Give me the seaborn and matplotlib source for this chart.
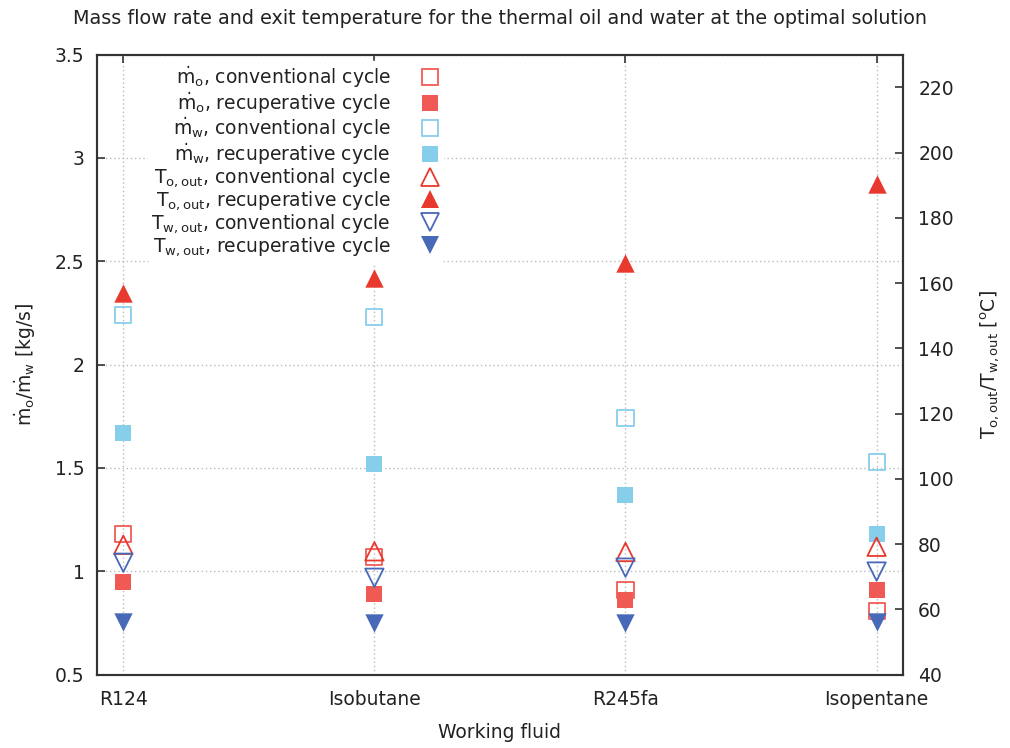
import matplotlib
matplotlib.use("Agg")
import matplotlib.pyplot as plt
import seaborn as sns
import pandas as pd

fluids = ["R124", "Isobutane", "R245fa", "Isopentane"]

# Mass flow rates [kg/s]
m_oil_conv = [1.18, 1.07, 0.91, 0.81]
m_oil_recup = [0.95, 0.89, 0.86, 0.91]
m_water_conv = [2.24, 2.23, 1.74, 1.53]
m_water_recup = [1.67, 1.52, 1.37, 1.18]

# Exit temperatures [degC]
T_oil_conv = [79.8, 77.8, 77.6, 79.2]
T_oil_recup = [157.0, 161.7, 166.0, 190.2]
T_water_conv = [74.3, 69.7, 72.8, 71.6]
T_water_recup = [56.2, 55.9, 55.9, 56.2]

RED_SQ = "#f05a55"
RED_TRI = "#e8392e"
SKY = "#87ceeb"
NAVY = "#4868b8"
TXT = "#222222"
FS = 13.5

sns.set_theme(style="white")
plt.rcParams["font.family"] = ["DejaVu Sans"]
plt.rcParams["mathtext.fontset"] = "dejavusans"

fig = plt.figure(figsize=(10.10, 7.48), dpi=100)
ax = fig.add_axes([0.096, 0.098, 0.798, 0.829])
ax2 = ax.twinx()

pos = list(range(len(fluids)))

series = [
    (ax, m_oil_conv, "s", RED_SQ, False, r"$\dot{\mathrm{m}}_\mathrm{o}$, conventional cycle", 135),
    (ax, m_oil_recup, "s", RED_SQ, True, r"$\dot{\mathrm{m}}_\mathrm{o}$, recuperative cycle", 135),
    (ax, m_water_conv, "s", SKY, False, r"$\dot{\mathrm{m}}_\mathrm{w}$, conventional cycle", 135),
    (ax, m_water_recup, "s", SKY, True, r"$\dot{\mathrm{m}}_\mathrm{w}$, recuperative cycle", 135),
    (ax2, T_oil_conv, "^", RED_TRI, False, r"$\mathrm{T}_\mathrm{o,out}$, conventional cycle", 175),
    (ax2, T_oil_recup, "^", RED_TRI, True, r"$\mathrm{T}_\mathrm{o,out}$, recuperative cycle", 175),
    (ax2, T_water_conv, "v", NAVY, False, r"$\mathrm{T}_\mathrm{w,out}$, conventional cycle", 175),
    (ax2, T_water_recup, "v", NAVY, True, r"$\mathrm{T}_\mathrm{w,out}$, recuperative cycle", 175),
]

handles = []
labels = []
for target, vals, mk, col, filled, lab, size in series:
    df = pd.DataFrame({"x": pos, "y": vals})
    sns.scatterplot(
        data=df, x="x", y="y", ax=target, marker=mk, s=size,
        color=col if filled else "none",
        edgecolor=col, linewidth=0 if filled else 1.3,
        zorder=3, legend=False,
    )
    h = plt.Line2D([], [], linestyle="none", marker=mk, markersize=11 if mk == "s" else 13,
                   markerfacecolor=col if filled else "white", markeredgecolor=col,
                   markeredgewidth=0 if filled else 1.3)
    handles.append(h)
    labels.append(lab)

ax.set_xlim(-0.105, 3.105)
ax.set_ylim(0.5, 3.5)
ax2.set_ylim(40, 230)
ax.set_xticks(pos)
ax.set_xticklabels(fluids)
ax.set_yticks([0.5, 1, 1.5, 2, 2.5, 3, 3.5])
ax.set_yticklabels(["0.5", "1", "1.5", "2", "2.5", "3", "3.5"])
ax2.set_yticks(list(range(40, 221, 20)))

ax.grid(True, color="#bbbbbb", linestyle=(0, (1, 2)), linewidth=1.0)
ax.set_axisbelow(True)
ax2.grid(False)

for a in (ax, ax2):
    for s in a.spines.values():
        s.set_color("#333333")
        s.set_linewidth(1.5)

ax.tick_params(axis="both", direction="in", length=6, width=1.2, color="#333333",
               labelsize=FS, labelcolor=TXT, top=True)
ax.tick_params(axis="x", pad=11)
ax.tick_params(axis="y", pad=9)
ax2.tick_params(axis="y", direction="in", length=6, width=1.2, color="#333333",
                labelsize=FS, labelcolor=TXT, pad=11)

ax.set_xlabel("Working fluid", fontsize=FS, color=TXT, labelpad=10)
ax.set_ylabel(r"$\dot{\mathrm{m}}_\mathrm{o}/\dot{\mathrm{m}}_\mathrm{w}$ [kg/s]", fontsize=FS,
              color=TXT, labelpad=12)
ax2.set_ylabel(r"$\mathrm{T}_\mathrm{o,out}/\mathrm{T}_\mathrm{w,out}$ [$^\mathrm{o}$C]", fontsize=FS,
               color=TXT, labelpad=18)

ax.set_title("Mass flow rate and exit temperature for the thermal oil and water at the optimal solution",
             fontsize=13.8, color=TXT, pad=22)

leg = ax2.legend(handles, labels, loc="upper left", bbox_to_anchor=(0.063, 0.99),
                 markerfirst=False, frameon=True, fontsize=FS, handlelength=1.0,
                 handletextpad=1.6, labelspacing=0.0, borderpad=0.2, borderaxespad=0)
leg.get_frame().set_edgecolor("white")
leg.get_frame().set_facecolor("white")
leg.get_frame().set_alpha(1.0)
for t in leg.get_texts():
    t.set_ha("right")
    t.set_color(TXT)
leg._legend_box.align = "right"
ax2.set_zorder(ax.get_zorder() + 1)
ax2.patch.set_visible(False)

fig.savefig("out.png", dpi=100)
